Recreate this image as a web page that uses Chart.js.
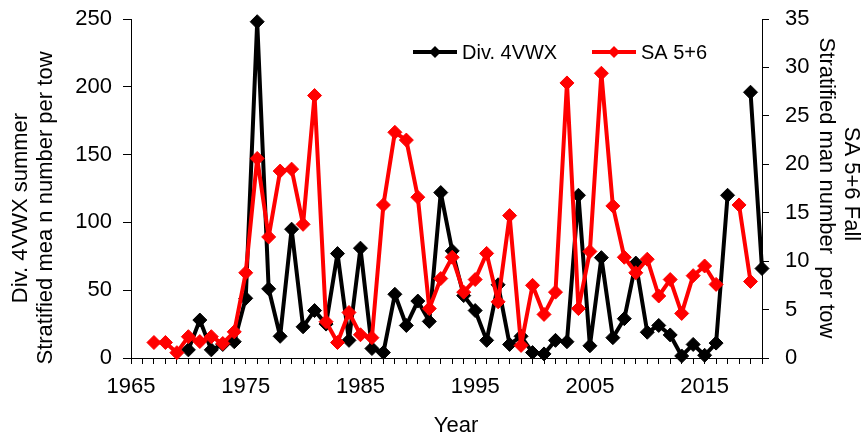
<!DOCTYPE html>
<html>
<head>
<meta charset="utf-8">
<script src="https://cdn.jsdelivr.net/npm/chart.js@4"></script>
<style>
  body { margin: 0; background: #fff; }
  canvas { display: block; }
</style>
</head>
<body>
<canvas id="chart" width="862" height="438"></canvas>
<script>
// survey years
const years = [1967, 1968, 1969, 1970, 1971, 1972, 1973, 1974, 1975, 1976,
    1977, 1978, 1979, 1980, 1981, 1982, 1983, 1984, 1985, 1986,
    1987, 1988, 1989, 1990, 1991, 1992, 1993, 1994, 1995, 1996,
    1997, 1998, 1999, 2000, 2001, 2002, 2003, 2004, 2005, 2006,
    2007, 2008, 2009, 2010, 2011, 2012, 2013, 2014, 2015, 2016,
    2017, 2018, 2019, 2020];

// Div. 4VWX summer (left axis)
const div4vwx = [null, null, null, 6, 28, 6, 10, 12, 44, 248,
    51, 16, 95, 23, 35, 25, 77, 13, 81, 7,
    4, 47, 24, 42, 27, 122, 79, 46, 35, 13,
    54, 10, 16, 4, 3, 13, 12, 120, 9, 74,
    15, 29, 70, 19, 24, 17, 1.5, 10, 2, 11,
    120, null, 196, 66];

// SA 5+6 fall (right axis)
const sa56 = [1.6, 1.6, 0.55, 2.2, 1.7, 2.2, 1.5, 2.7, 8.8, 20.6,
    12.5, 19.3, 19.5, 13.8, 27.1, 3.75, 1.6, 4.7, 2.4, 2.1,
    15.8, 23.3, 22.5, 16.6, 5.1, 8.2, 10.4, 6.8, 8.1, 10.8,
    5.8, 14.7, 1.3, 7.5, 4.5, 6.8, 28.4, 5.1, 11.0, 29.4,
    15.7, 10.4, 8.8, 10.2, 6.4, 8.1, 4.6, 8.5, 9.5, 7.6,
    null, 15.8, 7.9, null];

const seriesNames = ['Div. 4VWX', 'SA 5+6'];
const seriesColors = ['#000000', '#ff0000'];
const xLabelYears = [1965, 1975, 1985, 1995, 2005, 2015];
const leftTitle = ['Div. 4VWX summer', 'Stratified mea n number per tow'];
const rightTitle = ['SA 5+6 Fall', 'Stratified man number  per tow'];
const xTitle = 'Year';

const FONT = "'Liberation Sans', Arial, sans-serif";

function toPoints(vals) {
    return years.map((y, i) => ({ x: y, y: vals[i] }));
}

// axis titles and legend drawn by hand
const decorations = {
    id: 'decorations',
    afterDraw(chart) {
        const ctx = chart.ctx;
        ctx.save();
        ctx.fillStyle = '#000';
        ctx.font = '22px ' + FONT;
        ctx.textAlign = 'center';
        ctx.textBaseline = 'middle';

        // left title (rotated -90)
        ctx.save();
        ctx.translate(21, 208);
        ctx.rotate(-Math.PI / 2);
        ctx.fillText(leftTitle[0], 0, 0);
        ctx.restore();
        ctx.save();
        ctx.translate(46, 208);
        ctx.rotate(-Math.PI / 2);
        ctx.fillText(leftTitle[1], 0, 0);
        ctx.restore();

        // right title (rotated +90)
        ctx.save();
        ctx.translate(851, 184);
        ctx.rotate(Math.PI / 2);
        ctx.fillText(rightTitle[0], 0, 0);
        ctx.restore();
        ctx.save();
        ctx.translate(826, 188);
        ctx.rotate(Math.PI / 2);
        ctx.fillText(rightTitle[1], 0, 0);
        ctx.restore();

        // x title
        ctx.fillText(xTitle, 456, 426);

        // legend
        const legendX = [413, 592];
        ctx.font = '20px ' + FONT;
        ctx.textAlign = 'left';
        seriesNames.forEach((name, i) => {
            const x0 = legendX[i], y0 = 52;
            ctx.strokeStyle = seriesColors[i];
            ctx.lineWidth = 4;
            ctx.beginPath();
            ctx.moveTo(x0, y0);
            ctx.lineTo(x0 + 44, y0);
            ctx.stroke();
            ctx.fillStyle = seriesColors[i];
            const cx = x0 + 22, r = 6;
            ctx.beginPath();
            ctx.moveTo(cx - r, y0);
            ctx.lineTo(cx, y0 - r);
            ctx.lineTo(cx + r, y0);
            ctx.lineTo(cx, y0 + r);
            ctx.closePath();
            ctx.fill();
            ctx.fillStyle = '#000';
            ctx.fillText(name, x0 + 49, y0 + 1);
        });
        ctx.restore();
    }
};

const tickFont = { family: FONT, size: 22 };

// fixed axis boxes so the plot area lands where it is in the original
function fixBox(w, h) {
    return s => {
        if (w !== null) s.width = w;
        if (h !== null) s.height = h;
        s.paddingTop = 0;
        s.paddingBottom = 0;
        s.paddingLeft = 0;
        s.paddingRight = 0;
    };
}

new Chart(document.getElementById('chart'), {
    type: 'line',
    data: {
        datasets: [{
            label: seriesNames[0],
            data: toPoints(div4vwx),
            yAxisID: 'y',
            borderColor: seriesColors[0],
            backgroundColor: seriesColors[0],
            borderWidth: 4,
            borderJoinStyle: 'round',
            pointStyle: 'rectRot',
            pointRadius: 7,
            pointBorderWidth: 1,
            spanGaps: false,
            clip: false,
            order: 2
        }, {
            label: seriesNames[1],
            data: toPoints(sa56),
            yAxisID: 'y2',
            borderColor: seriesColors[1],
            backgroundColor: seriesColors[1],
            borderWidth: 4,
            borderJoinStyle: 'round',
            pointStyle: 'rectRot',
            pointRadius: 7,
            pointBorderWidth: 1,
            spanGaps: false,
            clip: false,
            order: 1
        }]
    },
    options: {
        responsive: false,
        animation: false,
        layout: { padding: { top: 19, left: 0, right: 0, bottom: 0 } },
        plugins: {
            legend: { display: false },
            tooltip: { enabled: false }
        },
        scales: {
            x: {
                type: 'linear',
                min: 1965,
                max: 2020,
                afterFit: fixBox(null, 80),
                grid: { drawOnChartArea: false, color: '#000', tickLength: 6 },
                border: { color: '#000', width: 1 },
                ticks: {
                    stepSize: 1,
                    autoSkip: false,
                    maxRotation: 0,
                    minRotation: 0,
                    padding: 10,
                    color: '#000',
                    font: tickFont,
                    callback: v => xLabelYears.includes(v) ? String(v) : ''
                }
            },
            y: {
                position: 'left',
                min: 0,
                max: 250,
                afterFit: fixBox(131, null),
                grid: { drawOnChartArea: false, color: '#000', tickLength: 8 },
                border: { color: '#000', width: 1 },
                ticks: { stepSize: 50, padding: 11, color: '#000', font: tickFont }
            },
            y2: {
                position: 'right',
                min: 0,
                max: 35,
                afterFit: fixBox(100, null),
                grid: { drawOnChartArea: false, color: '#000', tickLength: 7 },
                border: { color: '#000', width: 1 },
                ticks: { stepSize: 5, padding: 16, color: '#000', font: tickFont }
            }
        }
    },
    plugins: [decorations]
});
</script>
</body>
</html>
